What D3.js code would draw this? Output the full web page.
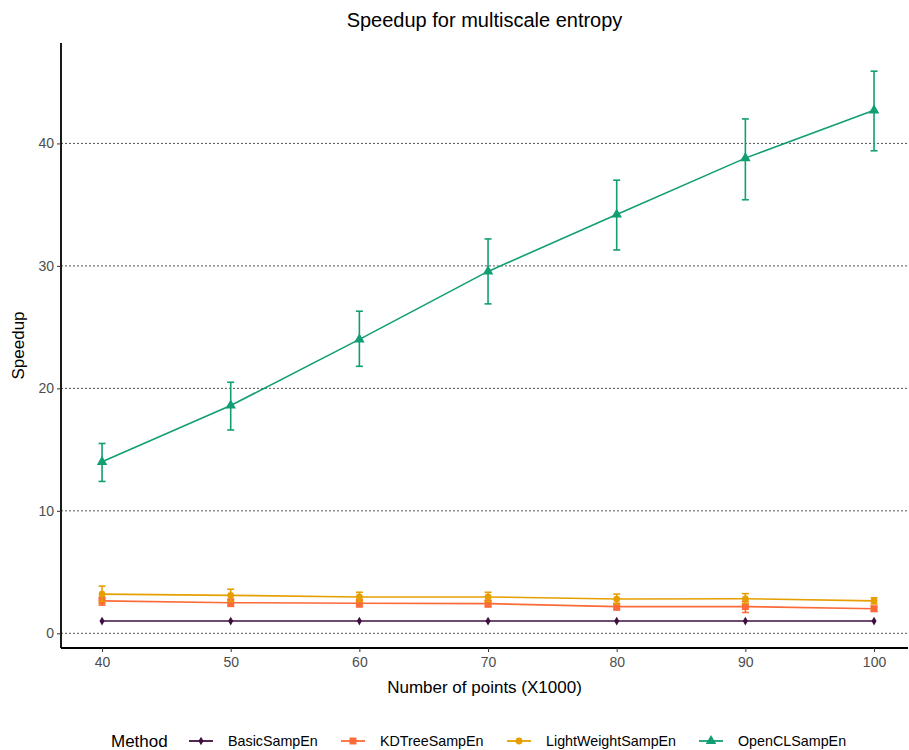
<!DOCTYPE html>
<html>
<head>
<meta charset="utf-8">
<script src="https://cdn.jsdelivr.net/npm/d3@7"></script>
<style>
  body { margin: 0; background: #fff; }
  svg { font-family: "Liberation Sans", Arial, sans-serif; }
</style>
</head>
<body>
<div id="chart"></div>
<script>
// data
var points = [40, 50, 60, 70, 80, 90, 100];
var methods = ["BasicSampEn", "KDTreeSampEn", "LightWeightSampEn", "OpenCLSampEn"];
var basicMean = [1, 1, 1, 1, 1, 1, 1];
var basicLo = [1, 1, 1, 1, 1, 1, 1];
var basicHi = [1, 1, 1, 1, 1, 1, 1];
var kdMean = [2.65, 2.5, 2.45, 2.42, 2.18, 2.18, 2.0];
var kdLo = [2.3, 2.2, 2.15, 2.15, 1.9, 1.7, 1.8];
var kdHi = [2.95, 2.8, 2.75, 2.7, 2.45, 2.6, 2.2];
var lightMean = [3.2, 3.1, 2.97, 2.97, 2.8, 2.82, 2.65];
var lightLo = [2.6, 2.6, 2.6, 2.6, 2.4, 2.45, 2.4];
var lightHi = [3.85, 3.6, 3.35, 3.35, 3.2, 3.24, 2.9];
var oclMean = [14.0, 18.6, 24.0, 29.55, 34.2, 38.8, 42.7];
var oclLo = [12.4, 16.6, 21.8, 26.9, 31.3, 35.4, 39.4];
var oclHi = [15.5, 20.5, 26.3, 32.2, 37.0, 42.0, 45.9];
var yTicks = [0, 10, 20, 30, 40];
var colors = ["#3f0f3f", "#fc6a38", "#e69f00", "#129e74"];
var shapes = [d3.symbolDiamond, d3.symbolSquare, d3.symbolCircle, d3.symbolTriangle];
var shapeSize = [22, 48, 36, 48];

var series = [
  {name: methods[0], mean: basicMean, lo: basicLo, hi: basicHi},
  {name: methods[1], mean: kdMean, lo: kdLo, hi: kdHi},
  {name: methods[2], mean: lightMean, lo: lightLo, hi: lightHi},
  {name: methods[3], mean: oclMean, lo: oclLo, hi: oclHi}
];

var W = 909, H = 750;
var margin = {top: 43, right: 1, bottom: 102, left: 61};
var width = W - margin.left - margin.right,
    height = H - margin.top - margin.bottom;

var svg = d3.select("#chart").append("svg").attr("width", W).attr("height", H);
var g = svg.append("g").attr("transform", "translate(" + margin.left + "," + margin.top + ")");

var x = d3.scaleLinear().domain([36.81, 102.64]).range([0, width]);
var y = d3.scaleLinear().domain([-1.2, 48.2]).range([height, 0]);

// grid
g.append("g").selectAll("line").data(yTicks).enter().append("line")
  .attr("x1", 0).attr("x2", width)
  .attr("y1", function(d) { return y(d); }).attr("y2", function(d) { return y(d); })
  .attr("stroke", "#555").attr("stroke-width", 1).attr("stroke-dasharray", "2,2");

// series
series.forEach(function(s, k) {
  var pts = points.map(function(p, i) { return {x: p, m: s.mean[i], lo: s.lo[i], hi: s.hi[i]}; });
  var sg = g.append("g");
  sg.append("path").datum(pts)
    .attr("fill", "none").attr("stroke", colors[k]).attr("stroke-width", 1.6)
    .attr("d", d3.line().x(function(d) { return x(d.x); }).y(function(d) { return y(d.m); }));
  var eb = sg.selectAll(".eb").data(pts.filter(function(d) { return d.hi > d.lo; })).enter().append("g");
  eb.append("line").attr("x1", function(d) { return x(d.x); }).attr("x2", function(d) { return x(d.x); })
    .attr("y1", function(d) { return y(d.lo); }).attr("y2", function(d) { return y(d.hi); });
  eb.append("line").attr("x1", function(d) { return x(d.x) - 3.5; }).attr("x2", function(d) { return x(d.x) + 3.5; })
    .attr("y1", function(d) { return y(d.lo); }).attr("y2", function(d) { return y(d.lo); });
  eb.append("line").attr("x1", function(d) { return x(d.x) - 3.5; }).attr("x2", function(d) { return x(d.x) + 3.5; })
    .attr("y1", function(d) { return y(d.hi); }).attr("y2", function(d) { return y(d.hi); });
  eb.selectAll("line").attr("stroke", colors[k]).attr("stroke-width", 1.6);
  sg.selectAll(".pt").data(pts).enter().append("path")
    .attr("transform", function(d) { return "translate(" + x(d.x) + "," + y(d.m) + ")"; })
    .attr("d", d3.symbol().type(shapes[k]).size(shapeSize[k]))
    .attr("fill", colors[k]);
});

// axes
var xAxis = g.append("g").attr("transform", "translate(0," + height + ")")
  .call(d3.axisBottom(x).tickValues(points).tickSize(4).tickPadding(5));
var yAxis = g.append("g")
  .call(d3.axisLeft(y).tickValues(yTicks).tickSize(4).tickPadding(3));
[xAxis, yAxis].forEach(function(a) {
  a.select(".domain").attr("stroke", "#000").attr("stroke-width", 1.8);
  a.selectAll(".tick line").attr("stroke", "#333");
  a.selectAll(".tick text").attr("fill", "#4d4d4d").attr("font-size", 14)
    .attr("font-family", "'Liberation Sans', Arial, sans-serif");
});
xAxis.select(".domain").attr("d", "M0,0H" + width);
yAxis.select(".domain").attr("d", "M0," + height + "V0");

// titles
svg.append("text").attr("x", margin.left + width / 2).attr("y", 27)
  .attr("text-anchor", "middle").attr("font-size", 20).attr("fill", "#000")
  .text("Speedup for multiscale entropy");
svg.append("text").attr("x", margin.left + width / 2).attr("y", 693)
  .attr("text-anchor", "middle").attr("font-size", 17).attr("fill", "#000")
  .text("Number of points (X1000)");
svg.append("text").attr("transform", "translate(24," + (margin.top + height / 2) + ") rotate(-90)")
  .attr("text-anchor", "middle").attr("font-size", 17).attr("fill", "#000")
  .text("Speedup");

// legend
var legY = 741;
svg.append("text").attr("x", 111).attr("y", legY + 6).attr("font-size", 17).attr("fill", "#000").text("Method");
var legX = [189, 341, 507, 699];
methods.forEach(function(m, k) {
  var lg = svg.append("g").attr("transform", "translate(" + legX[k] + "," + legY + ")");
  lg.append("line").attr("x1", 0).attr("x2", 24).attr("y1", 0).attr("y2", 0)
    .attr("stroke", colors[k]).attr("stroke-width", 1.8);
  lg.append("path").attr("transform", "translate(12,0)")
    .attr("d", d3.symbol().type(shapes[k]).size(shapeSize[k]))
    .attr("fill", colors[k]);
  lg.append("text").attr("x", 39).attr("y", 5).attr("font-size", 14.3).attr("fill", "#000").text(m);
});
</script>
</body>
</html>
